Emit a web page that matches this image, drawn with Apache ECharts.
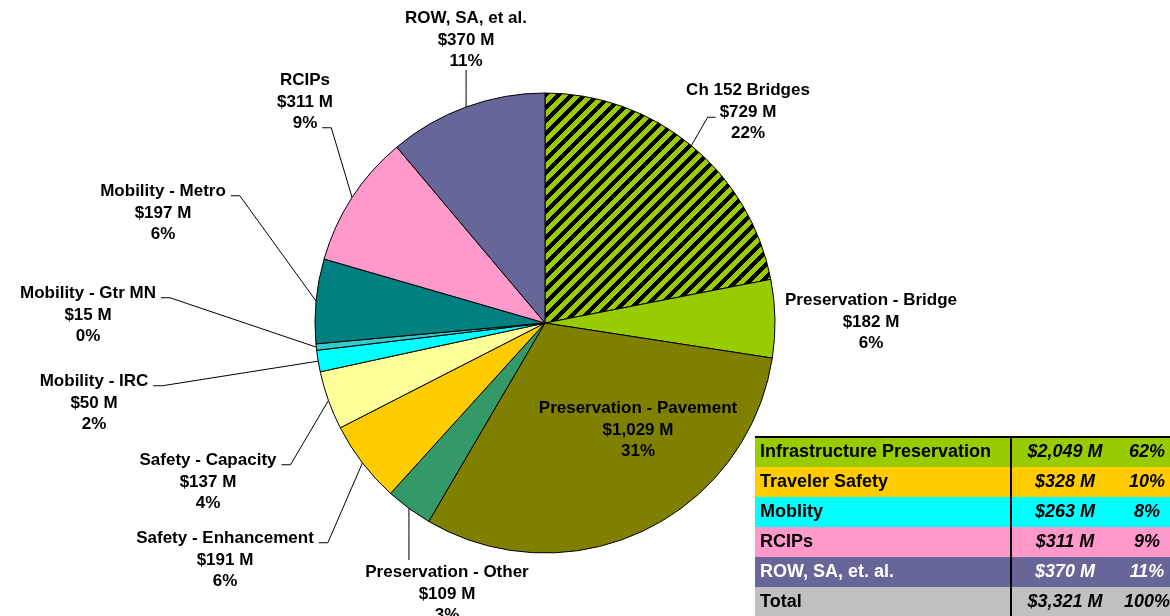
<!DOCTYPE html>
<html>
<head>
<meta charset="utf-8">
<script src="https://cdn.jsdelivr.net/npm/echarts@6/dist/echarts.min.js"></script>
<style>
  html, body { margin: 0; padding: 0; background: #fff; }
  #chart { width: 1170px; height: 616px; }
</style>
</head>
<body>
<div id="chart"></div>
<script>
  // slices, clockwise from 12 o'clock
  const categories = ['Ch 152 Bridges', 'Preservation - Bridge', 'Preservation - Pavement', 'Preservation - Other',
    'Safety - Enhancement', 'Safety - Capacity', 'Mobility - IRC', 'Mobility - Gtr MN', 'Mobility - Metro',
    'RCIPs', 'ROW, SA, et al.']
  const amounts = [729, 182, 1029, 109, 191, 137, 50, 15, 197, 311, 370]
  const percents = ['22%', '6%', '31%', '3%', '6%', '4%', '2%', '0%', '6%', '9%', '11%']

  // summary table
  const groupNames = ['Infrastructure Preservation', 'Traveler Safety', 'Moblity', 'RCIPs', 'ROW, SA, et. al.', 'Total']
  const groupAmounts = ['$2,049 M', '$328 M', '$263 M', '$311 M', '$370 M', '$3,321 M']
  const groupPercents = ['62%', '10%', '8%', '9%', '11%', '100%']

  const sliceColors = ['hatch', '#99CC00', '#808000', '#339966', '#FFCC00', '#FFFF99', '#00FFFF', '#33CCCC',
    '#008080', '#FF99CC', '#666699']
  const groupColors = ['#99CC00', '#FFCC00', '#00FFFF', '#FF99CC', '#666699', '#C0C0C0']
  const groupText = ['#000', '#000', '#000', '#000', '#fff', '#000']

  // label placement: [center x, top y, connector type, line index]
  const labelSpots = [
    [748, 80, 'left', 1],
    [871, 290, 'none'],
    [638, 398, 'none'],
    [447, 562, 'top'],
    [225, 528, 'right', 0],
    [208, 450, 'right', 0],
    [94, 371, 'right', 0],
    [88, 283, 'right', 0],
    [163, 181, 'right', 0],
    [305, 70, 'right', 2],
    [466, 8, 'bottom'],
  ]

  const FONT = 'Liberation Sans'
  const LH = 21.5
  const fmtMoney = v => '$' + v.toLocaleString('en-US') + ' M'

  // hatch pattern for Ch 152 Bridges
  const P = 13
  const pat = document.createElement('canvas')
  pat.width = pat.height = P
  const pc = pat.getContext('2d')
  pc.fillStyle = '#99CC00'
  pc.fillRect(0, 0, P, P)
  pc.fillStyle = '#000'
  for (let x = 0; x < P; x++) {
    for (let y = 0; y < P; y++) {
      if ((x + y) % P < 6) pc.fillRect(x, y, 1, 1)
    }
  }

  const measure = document.createElement('canvas').getContext('2d')
  measure.font = 'bold 17px "' + FONT + '"'
  const lineText = i => [categories[i], fmtMoney(amounts[i]), percents[i]]

  const pieData = categories.map((name, i) => {
    const item = {
      name: name,
      value: amounts[i],
      itemStyle: {
        color: sliceColors[i] === 'hatch' ? { image: pat, repeat: 'repeat' } : sliceColors[i],
      },
    }
    if (labelSpots[i][2] === 'none') item.labelLine = { show: false }
    return item
  })

  // table built from the arrays
  const graphic = []
  const tX = 755, tY = 437, rowH = 30, tW = 415
  groupNames.forEach((n, i) => {
    const y = tY + i * rowH
    graphic.push({ type: 'rect', shape: { x: tX, y: y, width: tW, height: rowH + 1 }, style: { fill: groupColors[i] }, silent: true })
    const ts = { font: 'bold 18px "' + FONT + '"', fill: groupText[i], verticalAlign: 'middle' }
    graphic.push({ type: 'text', x: 760, y: y + 15, style: Object.assign({ text: n, align: 'left' }, ts) })
    const it = { font: 'italic bold 18px "' + FONT + '"', fill: groupText[i], verticalAlign: 'middle', align: 'center' }
    graphic.push({ type: 'text', x: 1065, y: y + 15, style: Object.assign({ text: groupAmounts[i] }, it) })
    graphic.push({ type: 'text', x: 1147, y: y + 15, style: Object.assign({ text: groupPercents[i] }, it) })
  })
  graphic.push({ type: 'line', shape: { x1: tX, y1: tY, x2: tX + tW, y2: tY }, style: { stroke: '#000', lineWidth: 2 } })
  graphic.push({ type: 'line', shape: { x1: 1011, y1: tY, x2: 1011, y2: 616 }, style: { stroke: '#000', lineWidth: 2 } })

  const myChart = echarts.init(document.getElementById('chart'))
  const option = {
    animation: false,
    backgroundColor: '#fff',
    series: [
      {
        type: 'pie',
        center: [545, 323],
        radius: 230,
        startAngle: 90,
        clockwise: true,
        avoidLabelOverlap: false,
        emphasis: { disabled: true },
        itemStyle: { borderColor: '#000', borderWidth: 1 },
        label: {
          show: true,
          position: 'outside',
          color: '#000',
          fontFamily: FONT,
          fontWeight: 'bold',
          fontSize: 17,
          lineHeight: LH,
          formatter: p => lineText(p.dataIndex).join('\n'),
        },
        labelLine: {
          show: true,
          length: 10,
          length2: 10,
          lineStyle: { color: '#000', width: 1 },
        },
        labelLayout: params => {
          const i = params.dataIndex
          const s = labelSpots[i]
          const out = { x: s[0], y: s[1], align: 'center', verticalAlign: 'top' }
          const p0 = params.labelLinePoints ? params.labelLinePoints[0] : null
          if (!p0) return out
          if (s[2] === 'right') {
            const w = measure.measureText(lineText(i)[s[3]]).width
            const rx = s[0] + w / 2
            const yy = s[1] + LH / 2 + LH * s[3] + 4
            out.labelLinePoints = [p0, [rx + 14, yy], [rx + 5, yy]]
          } else if (s[2] === 'left') {
            const w = measure.measureText(lineText(i)[s[3]]).width
            const lx = s[0] - w / 2
            const yy = s[1] + LH / 2 + LH * s[3] + 5
            out.labelLinePoints = [p0, [lx - 12, yy], [lx - 4, yy]]
          } else if (s[2] === 'top') {
            out.labelLinePoints = [p0, [p0[0], (p0[1] + s[1]) / 2], [p0[0], s[1] - 2]]
          } else if (s[2] === 'bottom') {
            out.labelLinePoints = [p0, [p0[0], (p0[1] + s[1] + 62) / 2], [p0[0], s[1] + 62]]
          }
          return out
        },
        data: pieData,
      },
    ],
    graphic: graphic,
  }
  option && myChart.setOption(option)
</script>
</body>
</html>
